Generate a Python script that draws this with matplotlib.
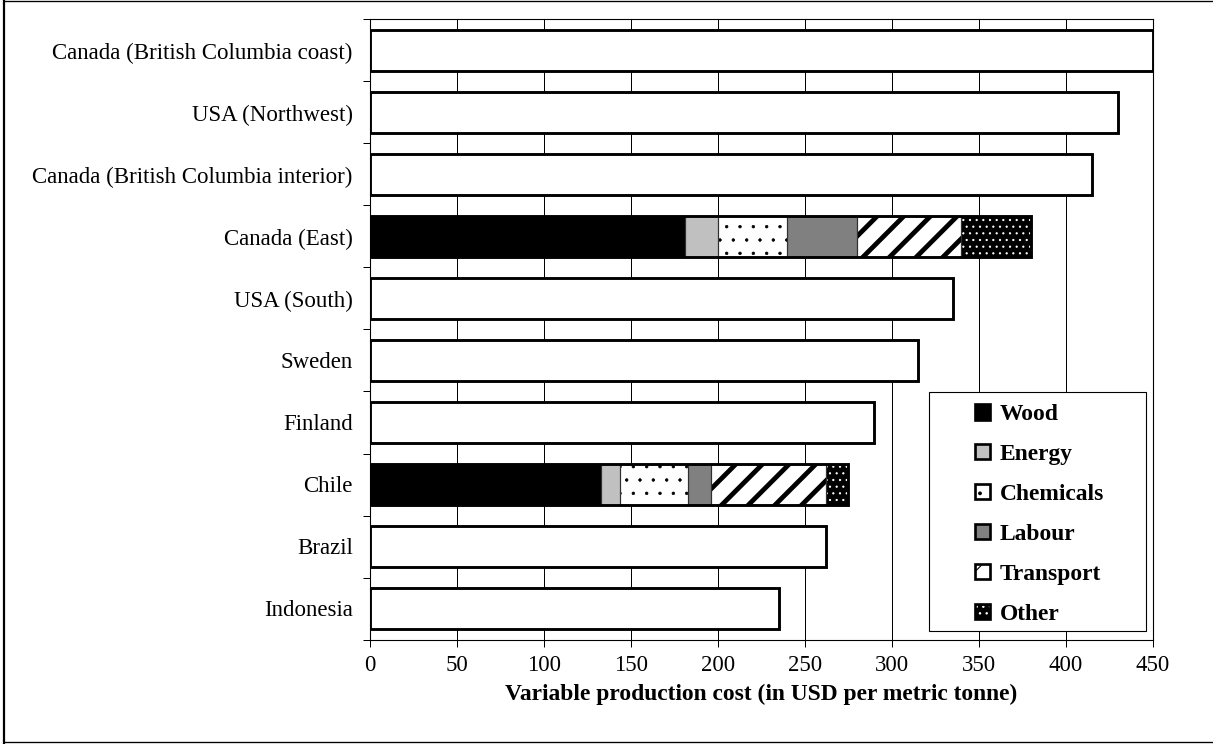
import matplotlib
matplotlib.use("Agg")
import matplotlib.pyplot as plt
from matplotlib.patches import Patch, Rectangle
from matplotlib.lines import Line2D
from matplotlib.legend_handler import HandlerTuple

plt.rcParams['font.family'] = ['Liberation Serif', 'DejaVu Serif']

# Regions, listed bottom to top
regions = ["Indonesia", "Brazil", "Chile", "Finland", "Sweden", "USA (South)",
           "Canada (East)", "Canada (British Columbia interior)", "USA (Northwest)",
           "Canada (British Columbia coast)"]
totals = [235, 262, 275, 290, 315, 335, 380, 415, 430, 450]

# Cost breakdown for the regions with detailed data
components = ["Wood", "Energy", "Chemicals", "Labour", "Transport", "Other"]
breakdown_regions = ["Chile", "Canada (East)"]
chile_costs = [133, 11, 39, 13, 66, 13]
canada_east_costs = [181, 19, 40, 40, 60, 40]

x_ticks = [0, 50, 100, 150, 200, 250, 300, 350, 400, 450]
x_label = "Variable production cost (in USD per metric tonne)"

# Fill styles per component: (face, hatch colour, hatch)
styles = {
    "Wood": ("black", "black", None),
    "Energy": ("#c0c0c0", "black", None),
    "Chemicals": ("white", "black", "."),
    "Labour": ("#808080", "black", None),
    "Transport": ("white", "black", "/"),
    "Other": ("black", "white", ".."),
}
hatch_lw = {"Chemicals": 0.6, "Transport": 4.3, "Other": 0.8}

W, H, DPI = 1213, 744, 80
fig = plt.figure(figsize=(W / DPI, H / DPI), dpi=DPI)
ax = fig.add_axes([369.5 / W, 1 - 639.5 / H, (1153 - 369.5) / W, (639.5 - 19.5) / H])

ypos = list(range(len(regions)))
bar_h = 0.66
BAR_LW = 2.6
TICK_FS = 20.6
BOLD_FS = 21.2


def hatched_patch(comp, **kw):
    face, hcol, hatch = styles[comp]
    with plt.rc_context({'hatch.linewidth': hatch_lw.get(comp, 1.0), 'hatch.color': hcol}):
        return Patch(facecolor=face, edgecolor=None, hatch=hatch, linewidth=0, **kw)


plain = [(y, t) for y, r, t in zip(ypos, regions, totals) if r not in breakdown_regions]
ax.barh([p[0] for p in plain], [p[1] for p in plain], height=bar_h,
        color="white", edgecolor="black", linewidth=BAR_LW, zorder=3)

for name, costs in zip(breakdown_regions, [chile_costs, canada_east_costs]):
    y = regions.index(name)
    left = 0
    for comp, val in zip(components, costs):
        face, hcol, hatch = styles[comp]
        if hatch:
            with plt.rc_context({'hatch.linewidth': hatch_lw[comp]}):
                ax.barh(y, val, left=left, height=bar_h, color=face,
                        edgecolor=hcol, hatch=hatch, linewidth=0, zorder=3)
        else:
            ax.barh(y, val, left=left, height=bar_h, color=face,
                    linewidth=0, zorder=3)
        ax.barh(y, val, left=left, height=bar_h, fill=False,
                edgecolor="#303030", linewidth=1.0, zorder=4)
        left += val
    ax.barh(y, left, height=bar_h, fill=False, edgecolor="black",
            linewidth=BAR_LW, zorder=5)

ax.set_xlim(0, 450)
ax.set_ylim(-0.5, len(regions) - 0.5)
ax.set_xticks(x_ticks)
ax.set_xticklabels([str(v) for v in x_ticks], fontsize=TICK_FS)
ax.set_yticks(ypos)
ax.set_yticklabels(regions, fontsize=TICK_FS)
ax.set_yticks([i - 0.5 for i in range(len(regions) + 1)], minor=True)
ax.tick_params(axis='y', which='major', length=0, pad=15)
ax.tick_params(axis='y', which='minor', length=6, width=0.9, direction='out')
ax.tick_params(axis='x', length=6, width=0.9, direction='out', pad=8)
ax.xaxis.grid(True, color='black', linewidth=0.9, zorder=0)
ax.set_axisbelow(True)
for s in ax.spines.values():
    s.set_linewidth(1.0)
    s.set_color('black')
ax.set_xlabel(x_label, fontsize=BOLD_FS, fontweight='bold', labelpad=7)

# Legend: hatched swatch overlaid with a thick outline
handles = []
for comp in components:
    fill = hatched_patch(comp)
    outline = Patch(facecolor='none', edgecolor='black', linewidth=2.4)
    handles.append((fill, outline))

# Legend box
box_px = (929, 392, 1146, 631)  # left, top, right, bottom in pixels from top-left
fig.add_artist(Rectangle((box_px[0] / W, 1 - box_px[3] / H),
                         (box_px[2] - box_px[0]) / W, (box_px[3] - box_px[1]) / H,
                         transform=fig.transFigure, facecolor='white',
                         edgecolor='black', linewidth=1.0, zorder=10))
leg = fig.legend(handles, components, loc='upper left',
                 bbox_to_anchor=(975 / W, 1 - 404 / H),
                 handler_map={tuple: HandlerTuple(ndivide=1, pad=0)},
                 prop={'weight': 'bold', 'size': BOLD_FS}, frameon=False,
                 handlelength=0.64, handleheight=0.64, handletextpad=0.4,
                 labelspacing=0.8, borderpad=0, borderaxespad=0)
leg.set_zorder(11)

# Outer frame around the figure
fig.add_artist(Line2D([4 / W, 4 / W], [1 / H, 743 / H], transform=fig.transFigure,
                      color='black', linewidth=2))
fig.add_artist(Line2D([4 / W, 1], [743 / H, 743 / H], transform=fig.transFigure,
                      color='black', linewidth=1.2))
fig.add_artist(Line2D([4 / W, 1], [2 / H, 2 / H], transform=fig.transFigure,
                      color='black', linewidth=1.2))

fig.savefig("out.png", dpi=DPI)
